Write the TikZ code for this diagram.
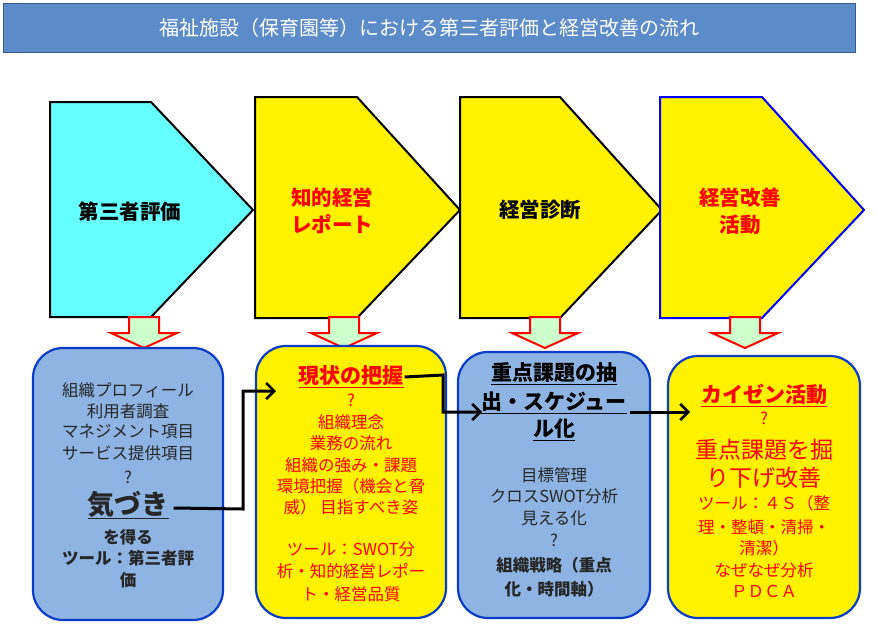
\documentclass[tikz,border=0pt]{standalone}
\usepackage{fontspec}
\setmainfont{Noto Sans CJK JP}
\usetikzlibrary{arrows.meta}
\definecolor{titlebg}{HTML}{5B8BC9}
\definecolor{titlebd}{HTML}{385D8A}
\definecolor{cyanf}{HTML}{66FFFF}
\definecolor{boxblue}{HTML}{8DB4E2}
\definecolor{boxbd}{HTML}{0A3CC8}
\definecolor{darrow}{HTML}{CCFFCC}
\tikzset{
 chev/.style={draw=black,line width=2pt},
 rbox/.style={draw=boxbd,line width=2.2pt,rounded corners=30pt},
 darr/.style={draw=red,fill=darrow,line width=2pt},
 conn/.style={draw=black,line width=3pt,-{Straight Barb[length=8pt,width=16pt,line width=2.5pt]}},
 t/.style={inner sep=0pt,font=\fontsize{16.5}{18}\selectfont},
 tb/.style={t,font=\fontsize{16.5}{18}\selectfont\bfseries},
 hd/.style={inner sep=1pt,font=\fontsize{21}{22}\selectfont\bfseries},
 lab/.style={inner sep=0pt,font=\fontsize{20.5}{27}\selectfont\bfseries,align=center},
}
\begin{document}
\begin{tikzpicture}[x=1pt,y=-1pt]
\useasboundingbox (0,0) rectangle (875,642);
\fill[white] (0,0) rectangle (875,642);
% title
\node[draw=titlebd,fill=titlebg,line width=1pt,minimum width=852pt,minimum height=49pt,anchor=north west,inner sep=0pt,text=white,font=\fontsize{20}{22}\selectfont] (title) at (3,3) {福祉施設（保育園等）における第三者評価と経営改善の流れ};
% chevrons
\draw[chev,fill=cyanf] (50,102) -- (151,102) -- (253,210) -- (151,317) -- (50,317) -- cycle;
\draw[chev,fill=yellow] (255,97) -- (357,97) -- (460,210) -- (357,318) -- (255,318) -- cycle;
\draw[chev,fill=yellow] (460,97) -- (560,97) -- (662,210) -- (560,318) -- (460,318) -- cycle;
\draw[chev,draw=blue,fill=yellow] (660,97) -- (762,97) -- (864,210) -- (762,318) -- (660,318) -- cycle;
\node[lab] (c1) at (130,212) {第三者評価};
\node[lab,text=red] (c2) at (332,211) {知的経営\\レポート};
\node[lab] (c3) at (540,210) {経営診断};
\node[lab,text=red] (c4) at (740,211) {経営改善\\活動};
% down arrows
\foreach \cx in {144,344,545,745}{
 \draw[darr] (\cx-15,317) -- (\cx+15,317) -- (\cx+15,333) -- (\cx+33,333) -- (\cx,348) -- (\cx-33,333) -- (\cx-15,333) -- cycle;}
% boxes
\draw[rbox,fill=boxblue] (33,348) rectangle (223,620);
\draw[rbox,fill=yellow] (256,346) rectangle (446,618);
\draw[rbox,fill=boxblue] (458,352) rectangle (650,618);
\draw[rbox,fill=yellow] (668,356) rectangle (860,618);
% box1
\begin{scope}[every node/.append style={text=black!85}]
\node[t] (a1) at (128,390) {組織プロフィール};
\node[t] (a2) at (128,411) {利用者調査};
\node[t] (a3) at (128,432) {マネジメント項目};
\node[t] (a4) at (128,453) {サービス提供項目};
\node[t] (a5) at (128,477) {?};
\node[inner sep=1pt,font=\fontsize{27}{29}\selectfont\bfseries] (kiz) at (128,505) {\underline{気づき}};
\node[tb] (a7) at (128,537) {を得る};
\node[tb] (a8) at (128,558) {ツール：第三者評};
\node[tb] (a9) at (128,580) {価};
\end{scope}
% box2
\begin{scope}[every node/.append style={text=red}]
\node[hd] (gen) at (351,377) {\underline{現状の把握}};
\node[t] (b1) at (351,400) {?};
\node[t] (b2) at (351,422) {組織理念};
\node[t] (b3) at (351,443) {業務の流れ};
\node[t] (b4) at (351,465) {組織の強み・課題};
\node[t] (b5) at (351,486) {環境把握（機会と脅};
\node[t] (b6) at (351,507) {威）\ 目指すべき姿};
\node[t] (b7) at (351,549) {ツール：SWOT分};
\node[t] (b8) at (351,571) {析・知的経営レポー};
\node[t] (b9) at (351,594) {ト・経営品質};
\end{scope}
% box3
\node[hd] (j1) at (554,374) {\underline{重点課題の抽}};
\node[hd] (j2) at (554,403) {\underline{出・スケジュー}};
\node[hd] (j3) at (554,430) {\underline{ル化}};
\begin{scope}[every node/.append style={text=black!85}]
\node[t] (d1) at (554,475) {目標管理};
\node[t] (d2) at (554,496) {クロスSWOT分析};
\node[t] (d3) at (554,518) {見える化};
\node[t] (d4) at (554,540) {?};
\node[tb] (d5) at (554,565) {組織戦略（重点};
\node[tb] (d6) at (554,589) {化・時間軸）};
\end{scope}
% box4
\begin{scope}[every node/.append style={text=red}]
\node[hd] (kai) at (764,395) {\underline{カイゼン活動}};
\node[t] (e1) at (764,418) {?};
\node[inner sep=0pt,font=\fontsize{23}{25}\selectfont] (e2) at (764,450) {重点課題を掘};
\node[inner sep=0pt,font=\fontsize{23}{25}\selectfont] (e3) at (764,478) {り下げ改善};
\node[t] (e4) at (764,503) {ツール：４Ｓ（整};
\node[t] (e5) at (764,527) {理・整頓・清掃・};
\node[t] (e6) at (764,548) {清潔）};
\node[t] (e7) at (764,570) {なぜなぜ分析};
\node[t] (e8) at (764,591) {ＰＤＣＡ};
\end{scope}
% connectors
\coordinate (k1) at (243,509);
\coordinate (k2) at (243,391);
\coordinate (kt) at (276,391);
\draw[conn] (kiz.east) ++(4,3) -- (k1) -- (k2) -- (kt);
\coordinate (g1) at (443,375);
\coordinate (g2) at (443,412);
\coordinate (gt) at (482,412);
\draw[conn] (gen.east) -- (g1) -- (g2) -- (gt);
\coordinate (h0) at (630,412);
\coordinate (ht) at (690,412);
\draw[conn] (h0) -- (ht);
\end{tikzpicture}
\end{document}
